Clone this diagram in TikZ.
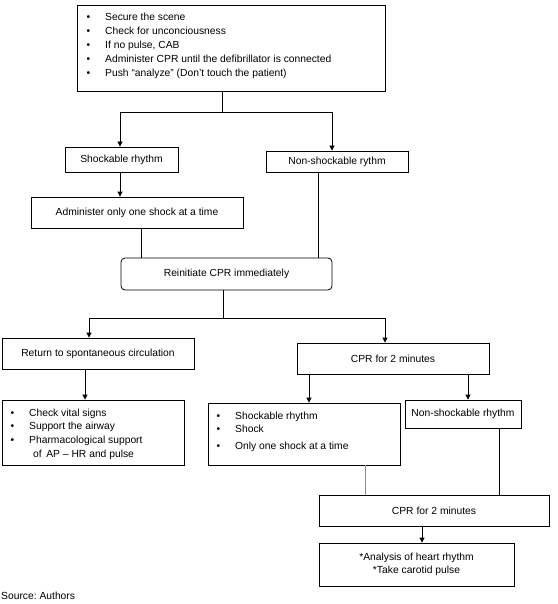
\documentclass[tikz,border=0pt]{standalone}
\usepackage{fontspec}
\setmainfont{Liberation Sans}
\usetikzlibrary{arrows.meta}
\frenchspacing
\begin{document}
\begin{tikzpicture}[x=1pt,y=-1pt,
  box/.style={draw, line width=0.8pt, inner sep=0pt},
  txt/.style={inner sep=0pt, align=left, font=\fontsize{10.3}{14}\selectfont},
  ctxt/.style={inner sep=0pt, align=center, font=\fontsize{10.3}{13}\selectfont},
  ln/.style={line width=0.8pt},
  arr/.style={line width=0.8pt, -{Triangle[length=5pt,width=5pt]}}]
\useasboundingbox (0,0) rectangle (557,604);
\newcommand{\bul}[1]{\makebox[19pt][l]{\hspace{0.5pt}•}#1}
% boxes
\node[box, minimum width=308, minimum height=86] (top) at (231,48) {};
\node[txt, anchor=west] (toptxt) at (86,46) {\bul{Secure the scene}\\\bul{Check for unconciousness}\\\bul{If no pulse, CAB}\\\bul{Administer CPR until the defibrillator is connected}\\\bul{Push “analyze” (Don’t touch the patient)}};
\node[box, minimum width=113, minimum height=25] (shk) at (121.5,159.5) {};
\node[ctxt] (shktxt) at (shk) {Shockable rhythm};
\node[box, minimum width=142, minimum height=21] (nsh) at (337,161.5) {};
\node[ctxt] (nshtxt) at (nsh) {Non-shockable rythm};
\node[box, minimum width=212, minimum height=31] (adm) at (137,212.5) {};
\node[ctxt] (admtxt) at (adm) {Administer only one shock at a time};
\node[box, rounded corners=4pt, minimum width=211, minimum height=32] (rei) at (226.5,274) {};
\node[ctxt] (reitxt) at (rei) {Reinitiate CPR immediately};
\node[box, minimum width=192, minimum height=31] (ret) at (98,353.5) {};
\node[ctxt] (rettxt) at (ret) {Return to spontaneous circulation};
\node[box, minimum width=192, minimum height=31] (cpr1) at (393,358.5) {};
\node[ctxt] (cpr1txt) at (cpr1) {CPR for 2 minutes};
\node[box, minimum width=182, minimum height=65] (chk) at (93,432.5) {};
\node[txt, anchor=west, font=\fontsize{10.3}{13.6}\selectfont] (chktxt) at (10,434) {\bul{Check vital signs}\\\bul{Support the airway}\\\bul{Pharmacological support}\\\hspace{23pt}of\, AP – HR and pulse};
\node[box, minimum width=192, minimum height=62] (shb) at (304,434) {};
\node[txt, anchor=west, font=\fontsize{10.3}{12.5}\selectfont] (shbtxt) at (216,432) {\bul{Shockable rhythm}\\\bul{Shock}\\[4.5pt]\bul{Only one shock at a time}};
\node[box, minimum width=116, minimum height=28] (nsr) at (463,414) {};
\node[ctxt] (nsrtxt) at (nsr) {Non-shockable rhythm};
\node[box, minimum width=230, minimum height=31] (cpr2) at (434,510.5) {};
\node[ctxt] (cpr2txt) at (cpr2) {CPR for 2 minutes};
\node[box, minimum width=195, minimum height=43] (ana) at (416.5,564.5) {};
\node[ctxt] (anatxt) at (ana) {*Analysis of heart rhythm\\*Take carotid pulse};
\node[txt, anchor=west] (src) at (1,596) {Source: Authors};
% junctions
\coordinate (j1) at (222,112);
\coordinate (a1) at (120,112);
\coordinate (a2) at (332,112);
\coordinate (j2) at (223,318);
\coordinate (a3) at (89,318);
\coordinate (a4) at (385,318);
\coordinate (x1) at (120,0);
\coordinate (x2) at (141,0);
\coordinate (x3) at (318,0);
\coordinate (x4) at (85,0);
\coordinate (x5) at (309,0);
\coordinate (x6) at (468,0);
\coordinate (x7) at (365,0);
\coordinate (x8) at (499,0);
\coordinate (x9) at (422,0);
% connectors
\draw[ln] (top.south -| j1) -- (j1);
\draw[ln] (a1) -- (a2);
\draw[arr] (a1) -- (a1 |- shk.north);
\draw[arr] (a2) -- (a2 |- nsh.north);
\draw[arr] (x1 |- shk.south) -- (x1 |- adm.north);
\draw[ln] (x2 |- adm.south) -- (x2 |- rei.north);
\draw[ln] (x3 |- nsh.south) -- (x3 |- rei.north);
\draw[ln] (j2 |- rei.south) -- (j2);
\draw[ln] (a3) -- (a4);
\draw[arr] (a3) -- (a3 |- ret.north);
\draw[arr] (a4) -- (a4 |- cpr1.north);
\draw[arr] (x4 |- ret.south) -- (x4 |- chk.north);
\draw[arr] (x5 |- cpr1.south) -- (x5 |- shb.north);
\draw[arr] (x6 |- cpr1.south) -- (x6 |- nsr.north);
\draw[ln, draw=black!45] (x7 |- shb.south) -- (x7 |- cpr2.north);
\draw[ln] (x8 |- nsr.south) -- (x8 |- cpr2.north);
\draw[arr] (x9 |- cpr2.south) -- (x9 |- ana.north);
\end{tikzpicture}
\end{document}
